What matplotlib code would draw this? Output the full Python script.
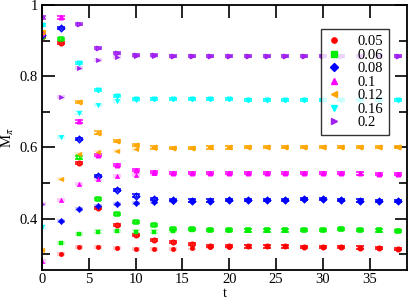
import numpy as np
import matplotlib.pyplot as plt
from matplotlib.lines import Line2D
from matplotlib.ticker import MultipleLocator, FuncFormatter

plt.rcParams['font.family'] = ['Liberation Serif', 'DejaVu Serif']
plt.rcParams['mathtext.fontset'] = 'stix'

t = np.arange(0, 40, 2)
nan = np.nan

# run started low (filled markers)
m005_a = [nan, .302, .321, .321, .318, .316, .315, .314, .319, .320, .321, .322, .322, .322, .321, .321, .320, .319, .318, .316]
m006_a = [nan, .333, .358, .364, .365, .364, .364, .366, .369, .369, .367, .367, .367, .367, .368, .369, .371, .368, .367, .365]
m008_a = [nan, .394, .428, .436, .442, .445, .447, .449, .451, .451, .453, .453, .453, .453, .456, .455, .453, .451, .449, .449]
m010_a = [.280, .453, .498, .512, .519, .523, .527, .528, .528, .528, .528, .528, .528, .528, .528, .528, .528, .527, .526, .525]
m012_a = [.313, .512, .582, .586, .591, .596, .598, .598, .599, .600, .600, .601, .601, .602, .602, .601, .601, .601, .602, .602]
m016_a = [.378, .630, .698, .719, .731, .734, .735, .735, .735, .735, .735, .734, .734, .734, .734, .734, .734, .734, .734, .734]
m020_a = [.441, .742, .823, .846, .855, .858, .858, .858, .857, .857, .857, .857, .857, .857, .857, .857, .857, .857, .857, .857]

# run started high (open markers)
m005_b = [.910, .894, .556, .430, .383, .354, .340, .334, .328, .324, .323, .322, .322, .322, .321, .321, .320, .319, .318, .316]
m006_b = [.910, .905, .572, .456, .413, .391, .382, .372, .370, .369, .368, .367, .367, .367, .368, .369, .371, .368, .367, .365]
m008_b = [.916, .935, .624, .519, .480, .465, .455, .452, .451, .451, .453, .453, .453, .453, .456, .455, .453, .451, .449, .449]
m010_b = [.920, .965, .673, .579, .550, .537, .531, .529, .528, .528, .528, .528, .528, .528, .528, .528, .528, .527, .526, .525]
m012_b = [.925, nan, .727, .642, .617, .607, .600, .599, .599, .600, .600, .601, .601, .602, .602, .601, .601, .601, .602, .602]
m016_b = [.944, nan, .837, .762, .745, .736, .735, .735, .735, .735, .735, .734, .734, .734, .734, .734, .734, .734, .734, .734]
m020_b = [.965, nan, .947, .880, .866, .860, .859, .858, .857, .857, .857, .857, .857, .857, .857, .857, .857, .857, .857, .857]
err = 0.003

labels = ['0.05', '0.06', '0.08', '0.1', '0.12', '0.16', '0.2']
runs_a = [m005_a, m006_a, m008_a, m010_a, m012_a, m016_a, m020_a]
runs_b = [m005_b, m006_b, m008_b, m010_b, m012_b, m016_b, m020_b]
colors = ['#ff0000', '#00ee00', '#0000ff', '#ff00ff', '#ffa500', '#00ffff', '#a020f0']
markers = ['o', 's', 'D', '^', '<', 'v', '>']

fig = plt.figure(figsize=(4.09, 2.99), dpi=100)
ax = fig.add_axes([42/409, 29/299, 365/409, 265/299])

for ya, yb, c, m in zip(runs_a, runs_b, colors, markers):
    ax.errorbar(t, yb, yerr=err, fmt=m, ls='none', color=c, mfc='none', mec=c,
                mew=1.1, ms=3.2, capsize=3, elinewidth=0.8, capthick=0.9)
    ax.errorbar(t, ya, yerr=err, fmt=m, ls='none', color=c, ms=3.3, mew=0.3,
                capsize=3, elinewidth=0.8, capthick=0.9)

ax.set_xlim(0, 39)
ax.set_ylim(0.256, 1.0)
ax.xaxis.set_major_locator(MultipleLocator(5))
ax.yaxis.set_major_locator(MultipleLocator(0.2))
ax.yaxis.set_minor_locator(MultipleLocator(0.1))
ax.yaxis.set_major_formatter(FuncFormatter(lambda v, p: '%g' % round(v, 3)))
ax.tick_params(which='both', direction='in', top=True, right=True, labelsize=10.5, width=1.2)
ax.tick_params(which='major', length=9, pad=3)
ax.tick_params(axis='x', which='major', pad=2)
ax.tick_params(which='minor', length=5.5)
for s in ax.spines.values():
    s.set_linewidth(1.3)

ax.set_xlabel('t', fontsize=10)
ax.xaxis.set_label_coords(0.5, -0.064)
ax.set_ylabel(r'M$_\pi$', fontsize=10.5)
ax.yaxis.set_label_coords(-0.07, 0.5)

handles = [Line2D([], [], ls='none', marker=m, color=c, ms=3.8) for m, c in zip(markers, colors)]
leg = ax.legend(handles, labels, loc='upper right', bbox_to_anchor=(0.951, 0.909),
                fontsize=10.5, frameon=True, fancybox=False, borderpad=0.4,
                labelspacing=0.02, handlelength=1.0, handletextpad=1.1, borderaxespad=0)
leg.get_frame().set_edgecolor('black')
leg.get_frame().set_linewidth(1.0)

fig.savefig('out.png', dpi=100)
